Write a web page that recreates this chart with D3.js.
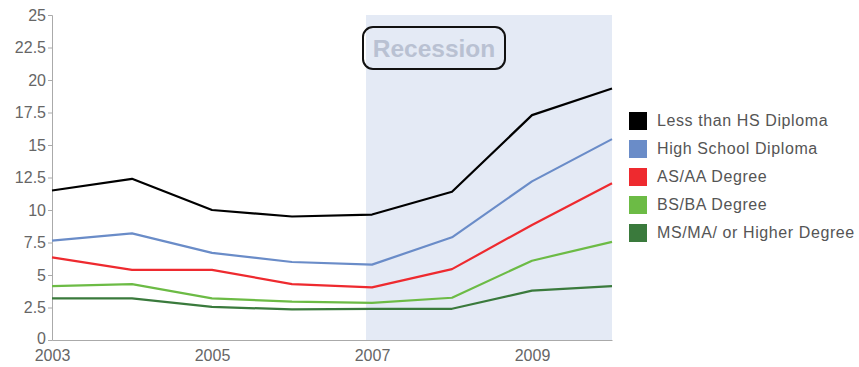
<!DOCTYPE html>
<html>
<head>
<meta charset="utf-8">
<script src="https://cdn.jsdelivr.net/npm/d3@7"></script>
<style>
  html, body { margin: 0; padding: 0; background: #fff; }
  svg { display: block; font-family: "Liberation Sans", Arial, Helvetica, sans-serif; }
</style>
</head>
<body>
<svg id="chart" width="859" height="367"></svg>
<script>
// Unemployment rate by educational attainment, 2003–2010
const years = [2003, 2004, 2005, 2006, 2007, 2008, 2009, 2010];
const seriesNames = [
  "Less than HS Diploma",
  "High School Diploma",
  "AS/AA Degree",
  "BS/BA Degree",
  "MS/MA/ or Higher Degree"
];
const lessThanHS   = [11.5, 12.4, 10.0, 9.5, 9.65, 11.4, 17.3, 19.35];
const highSchool   = [7.65, 8.2, 6.7, 6.0, 5.8, 7.9, 12.2, 15.45];
const asAA         = [6.35, 5.4, 5.4, 4.3, 4.05, 5.45, 8.85, 12.05];
const bsBA         = [4.15, 4.3, 3.2, 2.95, 2.85, 3.25, 6.1, 7.55];
const msMAHigher   = [3.2, 3.2, 2.55, 2.35, 2.4, 2.4, 3.8, 4.15];
const seriesColors = ["#000000", "#6a8cc8", "#ee2a2f", "#6cbb45", "#3a7a3c"];
const yTicks = [0, 2.5, 5, 7.5, 10, 12.5, 15, 17.5, 20, 22.5, 25];
const xTicks = [2003, 2005, 2007, 2009];
const recessionStart = 2006.925;
const recessionEnd = 2010;
const recessionLabel = "Recession";

const seriesValues = [lessThanHS, highSchool, asAA, bsBA, msMAHigher];

const svg = d3.select("#chart");
const plotLeft = 52, plotRight = 612, plotTop = 15, plotBottom = 340;

const x = d3.scaleLinear().domain([2003, 2010]).range([plotLeft, plotRight]);
const y = d3.scaleLinear().domain([0, 25]).range([plotBottom, plotTop]);

// recession shading
svg.append("rect")
  .attr("x", x(recessionStart))
  .attr("y", y(25))
  .attr("width", x(recessionEnd) - x(recessionStart))
  .attr("height", y(0) - y(25))
  .attr("fill", "#e4eaf5");

// recession label box
const labelG = svg.append("g");
labelG.append("rect")
  .attr("x", 363).attr("y", 27)
  .attr("width", 142).attr("height", 42)
  .attr("rx", 10).attr("ry", 10)
  .attr("fill", "none")
  .attr("stroke", "#111")
  .attr("stroke-width", 2);
labelG.append("text")
  .attr("x", 434).attr("y", 57)
  .attr("text-anchor", "middle")
  .attr("font-size", 24.5)
  .attr("font-weight", "bold")
  .attr("fill", "#b9c1d2")
  .text(recessionLabel);

// y axis
const yAxis = d3.axisLeft(y).tickValues(yTicks).tickSize(4).tickPadding(2)
  .tickFormat(d => String(d));
const yg = svg.append("g").attr("transform", `translate(${plotLeft},0)`).call(yAxis);
yg.select(".domain").attr("stroke", "#aaa");
yg.selectAll(".tick line").attr("stroke", "#aaa");
yg.selectAll(".tick text")
  .attr("font-size", 16).attr("fill", "#666")
  .attr("font-family", "Liberation Sans, Arial, sans-serif");
// lift the zero label a touch so it clears the first year label
yg.selectAll(".tick text").filter(d => d === 0).attr("y", -2);

// x axis
const xAxis = d3.axisBottom(x).tickValues(xTicks).tickSize(0).tickPadding(10)
  .tickFormat(d3.format("d"));
const xg = svg.append("g").attr("transform", `translate(0,${plotBottom})`).call(xAxis);
xg.select(".domain").attr("stroke", "#aaa");
xg.selectAll(".tick text")
  .attr("font-size", 16).attr("fill", "#666")
  .attr("font-family", "Liberation Sans, Arial, sans-serif");

// lines
const line = d3.line().x((d, i) => x(years[i])).y(d => y(d));
seriesValues.forEach((vals, k) => {
  svg.append("path")
    .datum(vals)
    .attr("d", line)
    .attr("fill", "none")
    .attr("stroke", seriesColors[k])
    .attr("stroke-width", 2.2)
    .attr("stroke-linejoin", "round");
});

// legend
const legend = svg.append("g");
seriesNames.forEach((name, k) => {
  const gy = 112 + k * 28;
  legend.append("rect")
    .attr("x", 629).attr("y", gy)
    .attr("width", 18).attr("height", 18)
    .attr("fill", seriesColors[k]);
  legend.append("text")
    .attr("x", 657).attr("y", gy + 14)
    .attr("font-size", 16)
    .attr("letter-spacing", 0.6)
    .attr("fill", "#555")
    .text(name);
});
</script>
</body>
</html>
